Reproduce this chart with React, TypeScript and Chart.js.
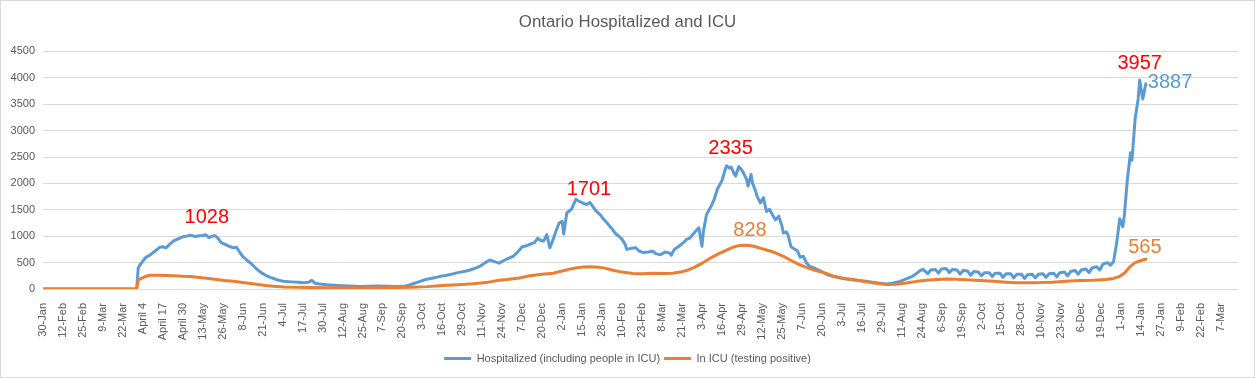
import React, { useEffect, useRef } from 'react';
import { Chart, registerables } from 'chart.js';

Chart.register(...registerables);

const FONT = '"Liberation Sans", Arial, sans-serif';

const chartTitle = 'Ontario Hospitalized and ICU';
const seriesNames = ['Hospitalized (including people in ICU)', 'In ICU (testing positive)'];
const seriesColors = ['#5B9BD5', '#ED7D31'];

// one tick label every 13 days, starting 30-Jan-2020 (day 0)
const tickLabels = [
  '30-Jan', '12-Feb', '25-Feb', '9-Mar', '22-Mar', 'April 4', 'April 17', 'April 30', '13-May', '26-May',
  '8-Jun', '21-Jun', '4-Jul', '17-Jul', '30-Jul', '12-Aug', '25-Aug', '7-Sep', '20-Sep', '3-Oct',
  '16-Oct', '29-Oct', '11-Nov', '24-Nov', '7-Dec', '20-Dec', '2-Jan', '15-Jan', '28-Jan', '10-Feb',
  '23-Feb', '8-Mar', '21-Mar', '3-Apr', '16-Apr', '29-Apr', '12-May', '25-May', '7-Jun', '20-Jun',
  '3-Jul', '16-Jul', '29-Jul', '11-Aug', '24-Aug', '6-Sep', '19-Sep', '2-Oct', '15-Oct', '28-Oct',
  '10-Nov', '23-Nov', '6-Dec', '19-Dec', '1-Jan', '14-Jan', '27-Jan', '9-Feb', '22-Feb', '7-Mar',
];
const tickStep = 13;
const lastDay = 778;
const yMax = 4500;
const yStep = 500;

// days since 30-Jan-2020
const hospDays = [
  0, 61, 62, 63, 65, 67, 70, 73, 76, 78, 80, 83, 85, 88, 91, 94, 96, 99, 102, 104,
  106, 108, 110, 112, 114, 116, 119, 122, 124, 126, 128, 130, 133, 136, 139, 142, 145, 148, 151, 154,
  158, 162, 166, 170, 173, 175, 177, 180, 185, 190, 195, 200, 206, 212, 218, 224, 230, 235, 238, 241,
  244, 247, 250, 254, 258, 262, 266, 270, 274, 278, 282, 285, 288, 291, 294, 297, 300, 303, 306, 309,
  312, 315, 318, 320, 322, 324, 326, 328, 330, 332, 334, 336, 338, 339, 341, 344, 347, 349, 352, 354,
  356, 358, 360, 363, 365, 367, 369, 371, 373, 375, 377, 379, 380, 383, 386, 388, 391, 394, 397, 399,
  402, 405, 408, 409, 411, 414, 417, 419, 421, 423, 425, 427, 429, 430, 432, 435, 437, 439, 442, 444,
  445, 447, 448, 450, 451, 453, 455, 456, 458, 459, 461, 462, 464, 465, 467, 469, 471, 473, 475, 477,
  479, 481, 482, 484, 485, 487, 489, 491, 493, 495, 497, 499, 502, 504, 507, 510, 514, 519, 523, 527,
  531, 536, 540, 545, 549, 553, 558, 562, 566, 569, 571, 573, 576, 578, 581, 583, 585, 588, 590, 592,
  595, 597, 599, 602, 604, 606, 609, 611, 613, 616, 618, 620, 623, 625, 627, 630, 632, 634, 637, 639,
  641, 644, 646, 648, 651, 653, 655, 658, 660, 662, 665, 667, 669, 672, 674, 676, 679, 681, 683, 686,
  688, 690, 693, 695, 697, 699, 701, 703, 704, 706, 708, 709, 711, 713, 714, 716, 718,
];
const hospValues = [
  0, 0, 400, 450, 530, 600, 650, 720, 790, 800, 780, 860, 910, 950, 990, 1005, 1020, 995, 1010, 1015,
  1028, 975, 1000, 1010, 960, 880, 840, 800, 780, 790, 700, 620, 540, 470, 380, 310, 260, 220, 190, 160,
  140, 135, 130, 120, 130, 165, 110, 95, 80, 70, 62, 55, 48, 50, 55, 52, 48, 50, 70, 100,
  130, 160, 185, 210, 235, 255, 280, 310, 330, 360, 400, 440, 500, 550, 520, 490, 540, 580, 620, 700,
  800, 820, 860, 880, 960, 920, 910, 1030, 780, 930, 1100, 1250, 1280, 1040, 1440, 1510, 1701, 1660, 1620, 1600,
  1640, 1560, 1480, 1400, 1320, 1260, 1190, 1120, 1040, 1000, 940, 850, 750, 770, 780, 720, 690, 700, 715, 670,
  650, 700, 680, 640, 750, 810, 880, 940, 960, 1030, 1100, 1160, 810, 1100, 1410, 1570, 1700, 1890, 2050, 2250,
  2335, 2290, 2310, 2180, 2140, 2320, 2250, 2200, 2080, 1950, 2170, 2000, 1850, 1750, 1630, 1730, 1470, 1510, 1400, 1310,
  1380, 1200, 1060, 1080, 1030, 800, 760, 730, 600, 620, 500, 430, 400, 370, 330, 280, 240, 210, 190, 175,
  160, 145, 130, 110, 95, 110, 145, 190, 240, 300, 350, 370, 290, 360, 370, 300, 380, 390, 310, 370,
  360, 280, 350, 340, 260, 330, 320, 250, 310, 310, 240, 300, 300, 220, 290, 290, 210, 280, 280, 200,
  270, 280, 210, 280, 290, 220, 290, 300, 230, 310, 320, 250, 330, 350, 280, 360, 380, 310, 400, 420,
  360, 470, 500, 450, 520, 870, 1330, 1180, 1400, 2080, 2580, 2440, 3220, 3600, 3957, 3600, 3887,
];

const icuDays = [
  0, 61, 62, 64, 67, 70, 75, 80, 85, 91, 96, 102, 108, 113, 118, 124, 130, 135, 140, 145,
  150, 157, 165, 175, 185, 200, 215, 230, 240, 250, 260, 270, 280, 290, 297, 302, 310, 317, 325, 332,
  338, 345, 350, 355, 360, 365, 371, 377, 384, 390, 397, 404, 410, 415, 419, 424, 428, 432, 436, 440,
  445, 449, 453, 459, 462, 465, 468, 471, 474, 478, 482, 487, 492, 497, 502, 507, 510, 515, 520, 528,
  535, 541, 549, 556, 562, 568, 575, 582, 588, 595, 601, 610, 619, 627, 634, 642, 649, 657, 666, 675,
  684, 692, 697, 701, 704, 708, 711, 714, 716, 718,
];
const icuValues = [
  0, 0, 170, 200, 240, 260, 262, 255, 250, 240, 235, 220, 200, 180, 160, 145, 125, 105, 85, 65,
  50, 38, 32, 28, 25, 22, 22, 28, 35, 45, 65, 80, 100, 130, 165, 180, 210, 250, 280, 300,
  340, 390, 410, 420, 418, 400, 355, 320, 295, 290, 300, 295, 300, 320, 350, 410, 470, 540, 610, 670,
  735, 790, 822, 828, 815, 790, 765, 740, 715, 670, 620, 540, 465, 410, 360, 320, 295, 240, 210, 175,
  140, 115, 85, 90, 112, 140, 165, 180, 190, 185, 177, 160, 145, 130, 118, 120, 122, 130, 145, 160,
  165, 180, 200, 240, 300, 430, 500, 530, 550, 565,
];

// value labels: which point of which series gets its value printed, and where relative to it
const valueLabels = [
  { series: 0, day: 106, color: '#FF0000', align: 'center', dx: 1, dy: -17 },
  { series: 0, day: 347, color: '#FF0000', align: 'center', dx: 13, dy: -10 },
  { series: 0, day: 445, color: '#FF0000', align: 'center', dx: 4, dy: -17 },
  { series: 0, day: 714, color: '#FF0000', align: 'center', dx: 0, dy: -17 },
  { series: 0, day: 718, color: '#5B9BD5', align: 'left', dx: 2, dy: -1 },
  { series: 1, day: 459, color: '#ED7D31', align: 'center', dx: 2, dy: -15 },
  { series: 1, day: 718, color: '#ED7D31', align: 'center', dx: -1, dy: -12 },
];

const framePlugin = {
  id: 'frame',
  beforeDraw(chart: any) {
    const { ctx, width, height } = chart;
    ctx.save();
    ctx.fillStyle = '#FFFFFF';
    ctx.fillRect(0, 0, width, height);
    ctx.strokeStyle = '#D9D9D9';
    ctx.lineWidth = 1;
    ctx.strokeRect(0.5, 0.5, width - 1, height - 1);
    ctx.restore();
  },
};

const valueLabelPlugin = {
  id: 'valueLabels',
  afterDatasetsDraw(chart: any) {
    const ctx = chart.ctx;
    ctx.save();
    ctx.font = `20px ${FONT}`;
    ctx.textBaseline = 'middle';
    for (const l of valueLabels) {
      const ds = chart.data.datasets[l.series];
      const meta = chart.getDatasetMeta(l.series);
      const idx = ds.data.findIndex((p: any) => p.x === l.day);
      if (idx < 0 || !meta.data[idx]) continue;
      const el = meta.data[idx];
      ctx.fillStyle = l.color;
      ctx.textAlign = l.align;
      ctx.fillText(String(ds.data[idx].y), el.x + l.dx, el.y + l.dy);
    }
    ctx.restore();
  },
};

export default function App() {
  const canvasRef = useRef<HTMLCanvasElement | null>(null);

  useEffect(() => {
    const canvas = canvasRef.current;
    if (!canvas) return;
    const chart = new Chart(canvas, {
      type: 'line',
      data: {
        datasets: [
          {
            label: seriesNames[0],
            data: hospDays.map((d, i) => ({ x: d, y: hospValues[i] })),
            borderColor: seriesColors[0],
            backgroundColor: seriesColors[0],
            borderWidth: 3,
            pointRadius: 0,
            tension: 0,
            fill: false,
            borderJoinStyle: 'round',
            borderCapStyle: 'round',
            order: 1,
          },
          {
            label: seriesNames[1],
            data: icuDays.map((d, i) => ({ x: d, y: icuValues[i] })),
            borderColor: seriesColors[1],
            backgroundColor: seriesColors[1],
            borderWidth: 3,
            pointRadius: 0,
            tension: 0,
            fill: false,
            borderJoinStyle: 'round',
            borderCapStyle: 'round',
            order: 0,
          },
        ],
      },
      options: {
        responsive: false,
        animation: false,
        devicePixelRatio: 1,
        events: [],
        layout: { padding: { left: 8.5, right: 8.5, top: 0, bottom: 4 } },
        plugins: {
          title: {
            display: true,
            text: chartTitle,
            color: '#595959',
            font: { family: FONT, size: 16.8, weight: 'normal' },
            padding: { top: 11.9, bottom: 19.4 },
          },
          legend: {
            display: true,
            position: 'bottom',
            labels: {
              boxWidth: 27,
              boxHeight: 3,
              padding: 4,
              color: '#595959',
              font: { family: FONT, size: 11 },
              generateLabels: (c: any) =>
                c.data.datasets.map((ds: any, i: number) => ({
                  text: ds.label,
                  fillStyle: ds.borderColor,
                  strokeStyle: ds.borderColor,
                  lineWidth: 0,
                  hidden: false,
                  datasetIndex: i,
                  fontColor: '#595959',
                })),
            },
          },
          tooltip: { enabled: false },
        },
        scales: {
          x: {
            type: 'linear',
            min: 0,
            max: lastDay,
            afterBuildTicks: (axis: any) => {
              axis.ticks = tickLabels.map((_, i) => ({ value: i * tickStep }));
            },
            afterFit: (s: any) => {
              s.height = 60;
            },
            ticks: {
              autoSkip: false,
              minRotation: 90,
              maxRotation: 90,
              padding: 6,
              color: '#595959',
              font: { family: FONT, size: 11 },
              callback: (v: any) => tickLabels[Math.round(Number(v) / tickStep)] ?? '',
            },
            grid: { display: false },
            border: { display: false },
          },
          y: {
            type: 'linear',
            min: 0,
            max: yMax,
            afterFit: (s: any) => {
              s.width = 34.5;
            },
            ticks: {
              stepSize: yStep,
              padding: 8,
              color: '#595959',
              font: { family: FONT, size: 11 },
              callback: (v: any) => String(v),
            },
            grid: { color: '#D9D9D9', lineWidth: 1, drawTicks: false },
            border: { display: false },
          },
          yRight: {
            type: 'linear',
            position: 'right',
            display: true,
            afterFit: (s: any) => {
              s.width = 8.5;
            },
            ticks: { display: false },
            grid: { display: false, drawTicks: false },
            border: { display: false },
          },
        },
      },
      plugins: [framePlugin, valueLabelPlugin],
    } as any);
    return () => chart.destroy();
  }, []);

  return (
    <div style={{ position: 'fixed', left: 0, top: 0, width: 1255, height: 378 }}>
      <canvas ref={canvasRef} width={1255} height={378} style={{ display: 'block', width: 1255, height: 378 }} />
    </div>
  );
}
